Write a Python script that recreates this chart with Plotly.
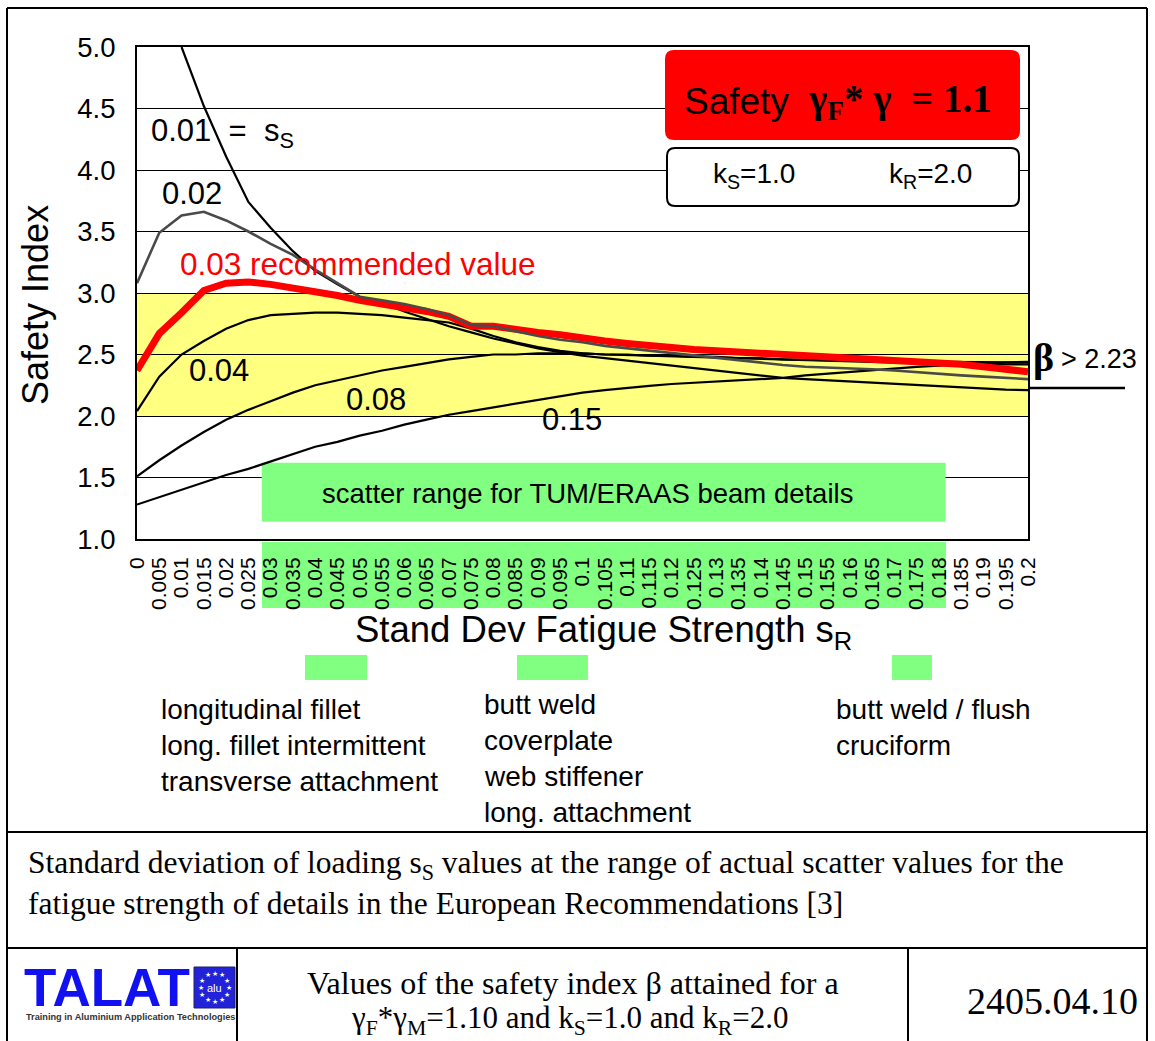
import math
import plotly.graph_objects as go

# Standard deviation of the fatigue strength s_R (x categories)
s_r_labels = ["0", "0.005", "0.01", "0.015", "0.02", "0.025", "0.03", "0.035", "0.04", "0.045",
              "0.05", "0.055", "0.06", "0.065", "0.07", "0.075", "0.08", "0.085", "0.09", "0.095",
              "0.1", "0.105", "0.11", "0.115", "0.12", "0.125", "0.13", "0.135", "0.14", "0.145",
              "0.15", "0.155", "0.16", "0.165", "0.17", "0.175", "0.18", "0.185", "0.19", "0.195", "0.2"]

# Safety index beta for each standard deviation of loading s_S
beta_ss_001 = [None, None, 5.00, 4.52, 4.11, 3.74, 3.53, 3.34, 3.18, 3.07,
               2.97, 2.92, 2.85, 2.79, 2.73, 2.68, 2.63, 2.59, 2.55, 2.52,
               2.49, 2.47, 2.45, 2.43, 2.41, 2.39, 2.37, 2.35, 2.33, 2.31,
               2.30, 2.29, 2.28, 2.27, 2.26, 2.25, 2.24, 2.23, 2.22, 2.215, 2.21]
beta_ss_002 = [3.08, 3.49, 3.63, 3.66, 3.59, 3.50, 3.40, 3.31, 3.19, 3.08,
               2.97, 2.94, 2.91, 2.87, 2.82, 2.74, 2.73, 2.69, 2.65, 2.62,
               2.60, 2.57, 2.55, 2.53, 2.51, 2.49, 2.47, 2.45, 2.43, 2.415,
               2.40, 2.395, 2.39, 2.38, 2.37, 2.355, 2.34, 2.33, 2.32, 2.31, 2.30]
beta_ss_003 = [2.37, 2.67, 2.84, 3.02, 3.08, 3.09, 3.07, 3.04, 3.02, 2.98,
               2.94, 2.91, 2.89, 2.85, 2.81, 2.73, 2.73, 2.70, 2.68, 2.66,
               2.63, 2.61, 2.59, 2.57, 2.55, 2.54, 2.53, 2.52, 2.51, 2.50,
               2.495, 2.49, 2.48, 2.47, 2.46, 2.45, 2.43, 2.42, 2.40, 2.38, 2.36]
beta_ss_004 = [2.04, 2.32, 2.50, 2.61, 2.71, 2.78, 2.82, 2.83, 2.84, 2.84,
               2.83, 2.82, 2.80, 2.78, 2.76, 2.71, 2.65, 2.60, 2.56, 2.53,
               2.51, 2.50, 2.495, 2.49, 2.48, 2.475, 2.47, 2.465, 2.46, 2.455,
               2.45, 2.445, 2.44, 2.44, 2.435, 2.43, 2.43, 2.425, 2.425, 2.42, 2.42]
beta_ss_008 = [1.51, 1.64, 1.76, 1.87, 1.97, 2.05, 2.12, 2.19, 2.25, 2.29,
               2.33, 2.37, 2.40, 2.43, 2.46, 2.48, 2.50, 2.50, 2.51, 2.51,
               2.51, 2.50, 2.50, 2.49, 2.49, 2.48, 2.48, 2.47, 2.47, 2.46,
               2.46, 2.455, 2.45, 2.45, 2.445, 2.445, 2.44, 2.44, 2.44, 2.435, 2.435]
beta_ss_015 = [1.28, 1.34, 1.40, 1.46, 1.52, 1.57, 1.63, 1.69, 1.75, 1.79,
               1.84, 1.88, 1.93, 1.97, 2.01, 2.04, 2.07, 2.10, 2.13, 2.16,
               2.19, 2.21, 2.23, 2.245, 2.26, 2.27, 2.28, 2.29, 2.30, 2.31,
               2.33, 2.345, 2.36, 2.375, 2.39, 2.40, 2.41, 2.42, 2.43, 2.435, 2.44]

y_ticks = [1.0, 1.5, 2.0, 2.5, 3.0, 3.5, 4.0, 4.5, 5.0]

# Plot area in pixels
PL, PR, PT, PB = 137, 1028, 47, 539
W, H = 1155, 1041


def px(x):
    return (x - PL) / (PR - PL)


def py(y):
    return (PB - y) / (PB - PT)


SANS = "Liberation Sans, Arial, Helvetica, sans-serif"
SERIF = "Liberation Serif, Times New Roman, serif"

fig = go.Figure()

series = [
    (beta_ss_015, "s_S=0.15", "black", 2.2),
    (beta_ss_008, "s_S=0.08", "black", 2.2),
    (beta_ss_004, "s_S=0.04", "black", 2.2),
    (beta_ss_001, "s_S=0.01", "black", 2.2),
    (beta_ss_003, "s_S=0.03", "#ff0000", 7),
    (beta_ss_002, "s_S=0.02", "#4a4a4a", 2.6),
]
for ys, name, color, width in series:
    fig.add_trace(go.Scatter(x=s_r_labels, y=ys, mode="lines", name=name,
                             line=dict(color=color, width=width), connectgaps=False,
                             hoverinfo="skip"))

shapes = []
annotations = []


def hline(x0, x1, y, width=2, color="black"):
    shapes.append(dict(type="line", xref="paper", yref="paper", x0=px(x0), x1=px(x1),
                       y0=py(y), y1=py(y), line=dict(color=color, width=width), layer="above"))


def vline(x, y0, y1, width=2, color="black"):
    shapes.append(dict(type="line", xref="paper", yref="paper", x0=px(x), x1=px(x),
                       y0=py(y0), y1=py(y1), line=dict(color=color, width=width), layer="above"))


def prect(x0, y0, x1, y1, fill, layer="above", line=None):
    shapes.append(dict(type="rect", xref="paper", yref="paper", x0=px(x0), x1=px(x1),
                       y0=py(y0), y1=py(y1), fillcolor=fill,
                       line=line or dict(width=0), layer=layer))


def rounded(x0, y0, x1, y1, r, fill, line):
    def p(x, y):
        return f"{px(x):.5f},{py(y):.5f}"
    path = (f"M {p(x0 + r, y0)} L {p(x1 - r, y0)} Q {p(x1, y0)} {p(x1, y0 + r)} "
            f"L {p(x1, y1 - r)} Q {p(x1, y1)} {p(x1 - r, y1)} "
            f"L {p(x0 + r, y1)} Q {p(x0, y1)} {p(x0, y1 - r)} "
            f"L {p(x0, y0 + r)} Q {p(x0, y0)} {p(x0 + r, y0)} Z")
    shapes.append(dict(type="path", xref="paper", yref="paper", path=path,
                       fillcolor=fill, line=line, layer="above"))


def text(x, y, s, size, color="black", family=SANS, xanchor="left", yanchor="middle", angle=0):
    annotations.append(dict(xref="paper", yref="paper", x=px(x), y=py(y), text=s,
                            showarrow=False, xanchor=xanchor, yanchor=yanchor, textangle=angle,
                            font=dict(size=size, color=color, family=family)))


# Target band of the safety index (2.0 - 3.0)
shapes.append(dict(type="rect", xref="x", yref="y", x0=0, x1=40, y0=2.0, y1=3.0,
                   fillcolor="#ffff80", line=dict(width=0), layer="below"))
# Scatter range of the TUM/ERAAS beam details
shapes.append(dict(type="rect", xref="x", yref="y", x0=5.6, x1=36.3, y0=1.14, y1=1.62,
                   fillcolor="#80ff80", line=dict(width=0), layer="between"))
text(587, 493, "scatter range for TUM/ERAAS beam details", 27.5, xanchor="center")
# Same range behind the s_R tick labels
prect(262, 542, 946, 608, "#80ff80", layer="below")

# Safety factor box
rounded(665, 50, 1020, 140, 9, "#ff0000", dict(width=0))
text(682, 101, "Safety", 37)
text(806, 101, "<b>γ<sub>F</sub>* γ  = 1.1</b>", 39, family=SERIF)
# k factors box
rounded(667, 148, 1019, 206, 8, "white", dict(color="black", width=2))
text(711, 175, "k<sub>S</sub>=1.0", 28)
text(887, 175, "k<sub>R</sub>=2.0", 28)

# Curve labels
text(149, 133, "0.01 &nbsp;= &nbsp;s<sub>S</sub>", 31)
text(160, 193, "0.02", 31)
text(178, 264, "0.03 recommended value", 31.5, color="#ff0000")
text(187, 370, "0.04", 31)
text(344, 399, "0.08", 31)
text(540, 420, "0.15", 31)

# Target value beta > 2.23
text(1031, 357, "<b>β</b>", 40, family=SERIF)
text(1059, 359, "> 2.23", 27)
hline(1030, 1125, 388, width=2.5)

# Axis titles
text(35, 305, "Safety Index", 36, xanchor="center", angle=-90)
text(603, 632, "Stand Dev Fatigue Strength s<sub>R</sub>", 36.5, xanchor="center")

# Detail groups
prect(305, 655, 367, 680, "#80ff80")
prect(517, 655, 588, 680, "#80ff80")
prect(892, 655, 932, 680, "#80ff80")
for i, s in enumerate(["longitudinal fillet", "long. fillet intermittent", "transverse attachment"]):
    text(159, 709 + 36 * i, s, 28)
for i, s in enumerate(["butt weld", "coverplate", "web stiffener", "long. attachment"]):
    text(482, 704 + 36 * i, s, 28)
for i, s in enumerate(["butt weld / flush", "cruciform"]):
    text(834, 709 + 36 * i, s, 28)

# Slide frame and caption
hline(7, 1147, 8)
vline(7, 8, 1041)
vline(1147, 8, 1041)
hline(7, 1147, 832)
hline(7, 1147, 948)
vline(237, 948, 1041)
vline(908, 948, 1041)
text(26, 865, "Standard deviation of loading s<sub>S</sub> values at the range of actual scatter values for the",
     31.5, family=SERIF)
text(26, 903, "fatigue strength of details in the European Recommendations [3]", 31.5, family=SERIF)

# Footer
text(573, 983, "Values of the safety index β attained for a", 32, family=SERIF, xanchor="center")
text(570, 1020, "γ<sub>F</sub>*γ<sub>M</sub>=1.10 and k<sub>S</sub>=1.0 and k<sub>R</sub>=2.0", 31,
     family=SERIF, xanchor="center")
text(1052, 1001, "2405.04.10", 38, family=SERIF, xanchor="center")

# TALAT logo
text(22, 987, "<b>TALAT</b>", 53, color="#1010f0")
prect(194, 967, 235, 1008, "#2222d8", line=dict(color="#202060", width=1))
for k in range(12):
    a = 2 * math.pi * k / 12
    text(214.5 + 14 * math.cos(a), 987.5 + 14 * math.sin(a), "★", 7, color="white",
         family="DejaVu Sans", xanchor="center")
text(214.5, 988, "alu", 11, color="white", xanchor="center")
text(130, 1017, "<b>Training in Aluminium Application Technologies</b>", 9.2, color="#333333",
     xanchor="center")

fig.update_layout(
    width=W, height=H,
    margin=dict(l=PL, r=W - PR, t=PT, b=H - PB, pad=0),
    paper_bgcolor="white", plot_bgcolor="white",
    showlegend=False,
    shapes=shapes, annotations=annotations,
    font=dict(family=SANS, color="black"),
    xaxis=dict(type="category", range=[0, 40], tickmode="array", tickvals=s_r_labels,
               ticktext=s_r_labels, tickangle=-90, tickfont=dict(size=21, color="black"),
               showgrid=False, showline=True, mirror=True, linecolor="black", linewidth=2,
               ticks="", ticklabelstandoff=8, zeroline=False),
    yaxis=dict(range=[1, 5], tickmode="array", tickvals=y_ticks,
               ticktext=[f"{v:.1f}" for v in y_ticks], tickfont=dict(size=27.5, color="black"),
               showgrid=True, gridcolor="black", gridwidth=1, showline=True, mirror=True,
               linecolor="black", linewidth=2, ticks="", ticklabelstandoff=14, zeroline=False),
)

fig.write_html("out.html")
